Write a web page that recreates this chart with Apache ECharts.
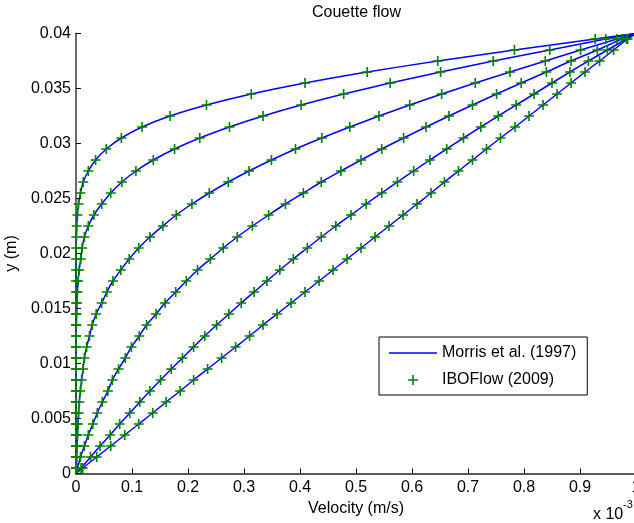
<!DOCTYPE html>
<html>
<head>
<meta charset="utf-8">
<script src="https://cdn.jsdelivr.net/npm/echarts@6/dist/echarts.min.js"></script>
<style>
  html, body { margin: 0; padding: 0; background: #fff; }
  #main { width: 634px; height: 523px; }
</style>
</head>
<body>
<div id="main"></div>
<script>
// particle heights (m), one marker per level
const yLevels = [0.0005, 0.0015, 0.0025, 0.0035, 0.0045, 0.0055, 0.0065, 0.0075, 0.0085, 0.0095,
  0.0105, 0.0115, 0.0125, 0.0135, 0.0145, 0.0155, 0.0165, 0.0175, 0.0185, 0.0195,
  0.0205, 0.0215, 0.0225, 0.0235, 0.0245, 0.0255, 0.0265, 0.0275, 0.0285, 0.0295,
  0.0305, 0.0315, 0.0325, 0.0335, 0.0345, 0.0355, 0.0365, 0.0375, 0.0385, 0.0395]

// plates: bottom at rest, top moving
const wallY = [0, 0.04]
const wallU = [0, 1]

// velocity profiles (x 1e-3 m/s), earliest time first
const profile1 = [0, 0, 0, 0, 0, 0, 0, 0, 0, 0,
  0, 0, 0, 0, 0, 0.0001, 0.0001, 0.0001, 0.0002, 0.0002,
  0.0003, 0.0007, 0.0013, 0.0025, 0.0045, 0.008, 0.013, 0.022, 0.035, 0.054,
  0.081, 0.118, 0.168, 0.233, 0.313, 0.409, 0.520, 0.646, 0.783, 0.927]
const profile2 = [0, 0, 0, 0, 0, 0, 0, 0.0001, 0.0001, 0.0001,
  0.0002, 0.0003, 0.0004, 0.0006, 0.001, 0.0016, 0.0025, 0.0038, 0.0057, 0.0085,
  0.011, 0.015, 0.022, 0.032, 0.046, 0.062, 0.082, 0.107, 0.138, 0.176,
  0.221, 0.274, 0.334, 0.402, 0.478, 0.561, 0.651, 0.745, 0.846, 0.946]
const profile3 = [0.0004, 0.0012, 0.0019, 0.0027, 0.0035, 0.0046, 0.006, 0.0078, 0.010, 0.0125,
  0.015, 0.019, 0.024, 0.029, 0.036, 0.046, 0.055, 0.066, 0.080, 0.095,
  0.112, 0.132, 0.155, 0.179, 0.207, 0.238, 0.272, 0.309, 0.349, 0.392,
  0.439, 0.489, 0.541, 0.596, 0.653, 0.713, 0.775, 0.838, 0.901, 0.966]
const profile4 = [0.003, 0.008, 0.015, 0.022, 0.030, 0.038, 0.047, 0.057, 0.065, 0.076,
  0.088, 0.099, 0.113, 0.126, 0.143, 0.159, 0.178, 0.197, 0.217, 0.240,
  0.263, 0.288, 0.315, 0.344, 0.374, 0.406, 0.438, 0.473, 0.509, 0.546,
  0.585, 0.625, 0.666, 0.708, 0.751, 0.795, 0.840, 0.884, 0.931, 0.975]
const profile5 = [0.009, 0.026, 0.043, 0.061, 0.078, 0.096, 0.114, 0.132, 0.151, 0.170,
  0.190, 0.210, 0.230, 0.251, 0.273, 0.295, 0.318, 0.341, 0.364, 0.388,
  0.413, 0.438, 0.464, 0.491, 0.518, 0.546, 0.574, 0.603, 0.632, 0.662,
  0.692, 0.723, 0.754, 0.786, 0.818, 0.850, 0.882, 0.915, 0.949, 0.983]
const profile6 = [0.012, 0.037, 0.062, 0.087, 0.112, 0.137, 0.161, 0.186, 0.210, 0.235,
  0.260, 0.285, 0.310, 0.334, 0.359, 0.384, 0.409, 0.434, 0.459, 0.484,
  0.509, 0.534, 0.559, 0.584, 0.609, 0.634, 0.658, 0.683, 0.708, 0.733,
  0.758, 0.784, 0.809, 0.834, 0.859, 0.884, 0.909, 0.935, 0.960, 0.985]

const profiles = [profile1, profile2, profile3, profile4, profile5, profile6]

const xTicks = { min: 0, max: 1, step: 0.1 }
const yTicks = { min: 0, max: 0.04, step: 0.005 }

const lineName = 'Morris et al. (1997)'
const markName = 'IBOFlow (2009)'

const font = 'Liberation Sans, Arial, Helvetica, sans-serif'
const plusPath = 'path://M4.2,0h1.6v4.2h4.2v1.6h-4.2v4.2h-1.6v-4.2h-4.2v-1.6h4.2z'
const blue = '#0000ff'
const green = '#008000'

const chart = echarts.init(document.getElementById('main'), null, { renderer: 'canvas' })

let series = []
// analytic lines first, markers drawn on top
profiles.forEach(p => {
  let pts = [[wallU[0], wallY[0]]]
  p.forEach((u, i) => { pts.push([u, yLevels[i]]) })
  pts.push([wallU[1], wallY[1]])
  series.push({
    name: lineName,
    type: 'line',
    data: pts,
    symbol: 'none',
    smooth: 0.3,
    clip: false,
    lineStyle: { color: blue, width: 1.5 },
    itemStyle: { color: blue },
    z: 2
  })
})
profiles.forEach(p => {
  series.push({
    name: markName,
    type: 'scatter',
    data: p.map((u, i) => [u, yLevels[i]]),
    symbol: plusPath,
    symbolSize: 10,
    clip: false,
    itemStyle: { color: green, opacity: 1 },
    z: 3
  })
})

const axisLine = { show: true, lineStyle: { color: '#5a5a5a', width: 1.8 } }
const axisTick = { show: true, inside: true, length: 5, lineStyle: { color: '#000', width: 1 } }

const option = {
  animation: false,
  backgroundColor: '#fff',
  textStyle: { fontFamily: font },
  title: {
    text: 'Couette flow',
    left: 312,
    top: 5,
    padding: 0,
    textStyle: { fontSize: 16, fontWeight: 'normal', color: '#000', fontFamily: font }
  },
  grid: { left: 76, top: 33.5, width: 560, height: 440, containLabel: false, outerBoundsMode: 'none' },
  legend: {
    orient: 'vertical',
    left: 379,
    top: 337,
    padding: [8, 11, 7, 10],
    itemWidth: 48,
    itemHeight: 10,
    itemGap: 11,
    selectedMode: false,
    backgroundColor: '#fff',
    borderColor: '#000',
    borderWidth: 1,
    borderRadius: 0,
    textStyle: { fontSize: 16, color: '#000', fontFamily: font, lineHeight: 16 },
    data: [
      { name: lineName, icon: 'path://M0,0H32V1H0Z' },
      { name: markName, icon: plusPath }
    ]
  },
  xAxis: {
    type: 'value',
    min: xTicks.min,
    max: xTicks.max,
    interval: xTicks.step,
    name: 'Velocity (m/s)',
    nameLocation: 'middle',
    nameGap: 16,
    nameTextStyle: { fontSize: 16, color: '#000', fontFamily: font },
    axisLine: axisLine,
    axisTick: axisTick,
    splitLine: { show: false },
    axisLabel: { fontSize: 16, color: '#000', margin: 6, fontFamily: font }
  },
  yAxis: {
    type: 'value',
    min: yTicks.min,
    max: yTicks.max,
    interval: yTicks.step,
    name: 'y (m)',
    nameLocation: 'middle',
    nameGap: 52,
    nameTextStyle: { fontSize: 16, color: '#000', fontFamily: font },
    axisLine: axisLine,
    axisTick: axisTick,
    splitLine: { show: false },
    axisLabel: { fontSize: 16, color: '#000', margin: 5, fontFamily: font }
  },
  // axis scale factor, bottom right
  graphic: [
    { type: 'text', left: 593, top: 507, style: { text: 'x 10', fontSize: 16, fill: '#000', font: '16px ' + font } },
    { type: 'text', left: 623, top: 499, style: { text: '-3', fontSize: 11, fill: '#000', font: '11px ' + font } }
  ],
  series: series
}

chart.setOption(option)
</script>
</body>
</html>
